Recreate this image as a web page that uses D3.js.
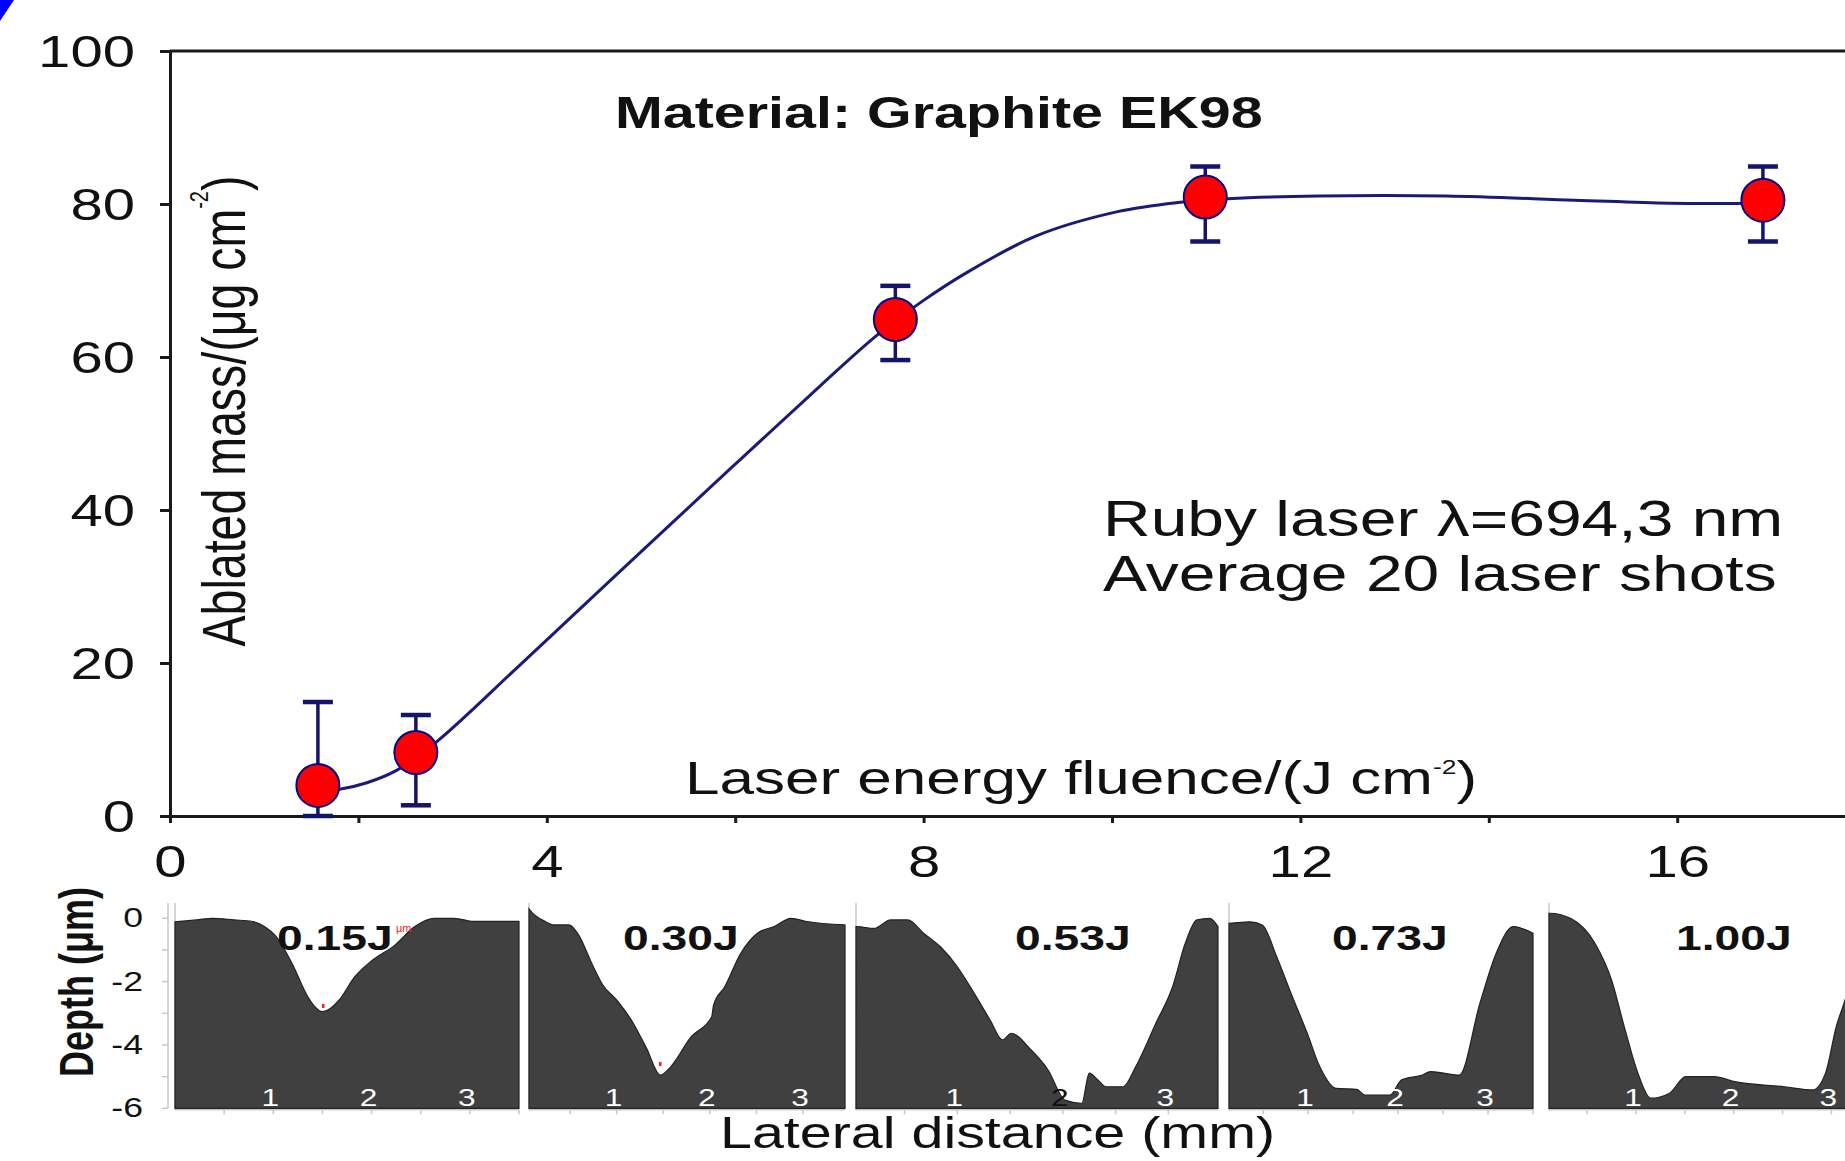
<!DOCTYPE html>
<html>
<head>
<meta charset="utf-8">
<script src="https://cdn.jsdelivr.net/npm/d3@7"></script>
<style>
body { margin: 0; background: #fff; }
svg { display: block; font-family: "Liberation Sans", Arial, sans-serif; }
</style>
</head>
<body>
<div id="chart"></div>
<script>
// Ablated mass vs laser fluence (top chart)
var fluence = [1.57, 2.61, 7.70, 10.99, 16.91];
var mass = [4.0, 8.3, 64.9, 80.9, 80.5];
var errLow = [0, 1.4, 59.6, 75.1, 75.1];
var errHigh = [14.9, 13.2, 69.3, 84.9, 84.9];

// fitted curve
var fitX = [1.57, 1.80, 2.09, 2.41, 2.83, 3.72, 4.78, 5.94, 6.90, 7.50, 8.00, 8.44, 9.19, 10.06, 10.70, 11.23, 12.19, 13.55, 14.91, 15.92, 16.91];
var fitY = [3.3, 3.5, 4.35, 6.0, 9.7, 19.8, 32.0, 45.3, 56.2, 62.8, 67.4, 70.9, 75.8, 79.0, 80.2, 80.7, 81.05, 81.05, 80.5, 80.1, 80.1];

var xTicks = [0, 2, 4, 6, 8, 10, 12, 14, 16];
var yTicks = [0, 20, 40, 60, 80, 100];

// Depth profiles (bottom strip)
var energies = ["0.15J", "0.30J", "0.53J", "0.73J", "1.00J"];
var profileMM = [
    [0, 0.22, 0.38, 0.6, 0.79, 0.91, 1.03, 1.19, 1.35, 1.42, 1.50, 1.58, 1.67, 1.83, 1.99, 2.24, 2.44, 2.64, 2.84, 3.04, 3.3, 3.5],
    [0.06, 0.07, 0.24, 0.32, 0.49, 0.58, 0.75, 0.85, 1.0, 1.18, 1.32, 1.47, 1.58, 1.80, 2.02, 2.04, 2.16, 2.33, 2.51, 2.69, 2.87, 3.04, 3.45],
    [0.04, 0.05, 0.21, 0.37, 0.53, 0.68, 0.84, 1.0, 1.16, 1.31, 1.43, 1.51, 1.70, 1.86, 2.02, 2.18, 2.25, 2.33, 2.41, 2.57, 2.69, 2.88, 3.04, 3.16, 3.27, 3.39, 3.47],
    [0.12, 0.35, 0.49, 0.65, 0.81, 0.99, 1.13, 1.31, 1.54, 1.63, 1.91, 2.04, 2.27, 2.36, 2.68, 2.91, 3.09, 3.28, 3.5],
    [0.11, 0.12, 0.33, 0.58, 0.75, 0.88, 1.02, 1.15, 1.34, 1.51, 1.80, 2.01, 2.52, 2.81, 2.94, 3.05, 3.14, 3.3, 3.6]
];
var profileDepth = [
    [-0.11, -0.05, 0, -0.05, -0.1, -0.26, -0.58, -1.42, -2.47, -2.78, -2.95, -2.85, -2.58, -1.84, -1.37, -0.84, -0.26, 0, 0, -0.1, -0.1, -0.1],
    [0.3, 0.26, -0.11, -0.21, -0.21, -0.47, -1.53, -2.1, -2.58, -3.32, -4.1, -4.95, -4.69, -3.74, -3.11, -2.74, -2.16, -1.11, -0.47, -0.26, 0, -0.1, -0.21],
    [-0.26, -0.26, -0.32, -0.05, -0.05, -0.47, -0.9, -1.53, -2.37, -3.21, -3.84, -3.63, -4.16, -4.79, -5.74, -5.84, -4.89, -5.1, -5.32, -5.32, -4.69, -3.32, -2.16, -0.79, -0.05, 0, -0.26],
    [-0.16, -0.11, -0.21, -1.21, -2.37, -3.63, -4.69, -5.37, -5.4, -5.58, -5.58, -5.1, -4.95, -4.84, -4.95, -2.68, -1.11, -0.26, -0.47],
    [0.16, 0.16, 0, -0.79, -1.95, -3.42, -4.89, -5.68, -5.53, -5.0, -5.0, -5.16, -5.32, -5.42, -4.89, -3.42, -2.58, -0.6, -0.2]
];
var depthTicks = [0, -2, -4, -6];
var lateralTicks = [1, 2, 3];

// layout of the five profile frames (pixel edges and mm at the edges)
var panels = [
    { x0: 175, x1: 519, m0: 0, m1: 3.5, lx: 277 },
    { x0: 529, x1: 845, m0: 0.06, m1: 3.45, lx: 623 },
    { x0: 856, x1: 1218, m0: 0.04, m1: 3.47, lx: 1015 },
    { x0: 1229, x1: 1533, m0: 0.12, m1: 3.5, lx: 1332 },
    { x0: 1549, x1: 1890, m0: 0.11, m1: 3.6, lx: 1676 }
];

var W = 1845, H = 1161;
var SX = 1.32;          // the original figure is stretched sideways
var ink = "#1a1a1a", navy = "#1a1a78";

var svg = d3.select("#chart").append("svg")
    .attr("width", W)
    .attr("height", H);

// blue corner from the slide
svg.append("polygon").attr("points", "0,0 14,0 0,21").attr("fill", "#0000ff");

var x = d3.scaleLinear().domain([0, 18]).range([170, 170 + 18 * 94.2]);
var y = d3.scaleLinear().domain([0, 100]).range([816, 51]);

function label(g, tx, ty, str, size, weight) {
    return g.append("text")
        .attr("transform", `translate(${tx},${ty}) scale(${SX},1)`)
        .style("font-size", size + "px")
        .style("font-weight", weight || "normal")
        .attr("fill", "#111")
        .text(str);
}

// axes
var yAxis = svg.append("g")
    .attr("transform", `translate(${x(0)},0)`)
    .call(d3.axisLeft(y).tickValues(yTicks).tickSize(10).tickSizeOuter(0))
    .attr("font-family", null).attr("font-size", null);
yAxis.select(".domain").attr("stroke", ink).attr("stroke-width", 3);
yAxis.selectAll(".tick line").attr("stroke", ink).attr("stroke-width", 3);
yAxis.selectAll(".tick text")
    .attr("x", -35 / SX).attr("dy", "0.35em")
    .attr("transform", `scale(${SX},1)`)
    .attr("fill", "#111").style("font-size", "44px");

var xAxis = svg.append("g")
    .attr("transform", `translate(0,${y(0)})`)
    .call(d3.axisBottom(x).tickValues(xTicks).tickSize(7).tickSizeOuter(0)
        .tickFormat(d => d % 4 === 0 ? d : ""))
    .attr("font-family", null).attr("font-size", null);
xAxis.select(".domain").attr("stroke", ink).attr("stroke-width", 3);
xAxis.selectAll(".tick line").attr("stroke", ink).attr("stroke-width", 3);
xAxis.selectAll(".tick text")
    .attr("y", 61).attr("dy", "0")
    .attr("transform", `scale(${SX},1)`)
    .attr("fill", "#111").style("font-size", "44px");

// top frame line
svg.append("line")
    .attr("x1", x(0)).attr("x2", W)
    .attr("y1", y(100)).attr("y2", y(100))
    .attr("stroke", ink).attr("stroke-width", 3);

// fitted curve
var fit = fitX.map((d, i) => [d, fitY[i]]);
svg.append("path")
    .datum(fit)
    .attr("fill", "none")
    .attr("stroke", navy)
    .attr("stroke-width", 3)
    .attr("d", d3.line().x(d => x(d[0])).y(d => y(d[1])).curve(d3.curveCatmullRom.alpha(0.5)));

// error bars
var pts = fluence.map((d, i) => ({ f: d, m: mass[i], lo: errLow[i], hi: errHigh[i] }));
var eb = svg.append("g").attr("stroke", "#14146a").attr("stroke-width", 3.5);
eb.selectAll(".stem").data(pts).enter().append("line")
    .attr("x1", d => x(d.f)).attr("x2", d => x(d.f))
    .attr("y1", d => y(d.lo)).attr("y2", d => y(d.hi));
eb.selectAll(".capHi").data(pts).enter().append("line")
    .attr("x1", d => x(d.f) - 15).attr("x2", d => x(d.f) + 15)
    .attr("y1", d => y(d.hi)).attr("y2", d => y(d.hi)).attr("stroke-width", 4.5);
eb.selectAll(".capLo").data(pts).enter().append("line")
    .attr("x1", d => x(d.f) - 15).attr("x2", d => x(d.f) + 15)
    .attr("y1", d => y(d.lo)).attr("y2", d => y(d.lo)).attr("stroke-width", 4.5);

// markers
svg.append("g").selectAll("circle").data(pts).enter().append("circle")
    .attr("cx", d => x(d.f)).attr("cy", d => y(d.m))
    .attr("r", 21.5)
    .attr("fill", "#ff0000")
    .attr("stroke", "#00008b")
    .attr("stroke-width", 2);

// texts in the top chart
label(svg, 615, 128, "Material: Graphite EK98", 43.5, "bold");
label(svg, 1103, 536, "Ruby laser λ=694,3 nm", 50);
label(svg, 1103, 591, "Average 20 laser shots", 50);

var xl = label(svg, 685, 794, "Laser energy fluence/(J cm", 47);
xl.append("tspan").attr("dy", -20).style("font-size", "20px").text("-2");
xl.append("tspan").attr("dy", 20).text(")");

var yl = svg.append("text")
    .attr("transform", `translate(245,411) scale(${SX},1) rotate(-90)`)
    .attr("text-anchor", "middle")
    .style("font-size", "46.5px")
    .attr("fill", "#111");
yl.append("tspan").text("Ablated mass/(μg cm");
yl.append("tspan").attr("dy", -28).style("font-size", "20px").text("-2");
yl.append("tspan").attr("dy", 28).text(")");

// ---- depth profiles ----
var yD = d3.scaleLinear().domain([0, -6]).range([918.3, 1108.3]);
var bottom = svg.append("g");

// shared depth axis
bottom.append("line")
    .attr("x1", 168).attr("x2", 168).attr("y1", 903).attr("y2", yD(-6))
    .attr("stroke", "#c8c8c8").attr("stroke-width", 1.5);
bottom.selectAll(".dtick").data(d3.range(0, -7, -1)).enter().append("line")
    .attr("x1", 162).attr("x2", 168)
    .attr("y1", d => yD(d)).attr("y2", d => yD(d))
    .attr("stroke", "#c8c8c8").attr("stroke-width", 1.5);
depthTicks.forEach(function(d) {
    label(bottom, 143, yD(d) + 9, d, 27).attr("text-anchor", "end");
});

function depthAt(ms, ds, m) {
    var i = d3.bisectLeft(ms, m);
    if (i <= 0) return ds[0];
    if (i >= ms.length) return ds[ds.length - 1];
    var t = (m - ms[i - 1]) / (ms[i] - ms[i - 1]);
    return ds[i - 1] + t * (ds[i] - ds[i - 1]);
}

panels.forEach(function(p, k) {
    var xm = d3.scaleLinear().domain([p.m0, p.m1]).range([p.x0, p.x1]);
    var g = bottom.append("g");
    var prof = profileMM[k].map((m, i) => [m, profileDepth[k][i]]);

    // frame lines
    g.append("line")
        .attr("x1", p.x0).attr("x2", p.x0).attr("y1", 903).attr("y2", yD(-6) + 2)
        .attr("stroke", "#c8c8c8").attr("stroke-width", 1.5);
    g.append("line")
        .attr("x1", p.x0).attr("x2", p.x1).attr("y1", yD(-6) + 1.5).attr("y2", yD(-6) + 1.5)
        .attr("stroke", "#c8c8c8").attr("stroke-width", 1.5);
    g.selectAll(".mt").data(d3.range(0.5, p.m1 + 0.01, 0.5).filter(m => m >= p.m0)).enter().append("line")
        .attr("x1", d => xm(d)).attr("x2", d => xm(d))
        .attr("y1", yD(-6) + 1).attr("y2", yD(-6) + 6)
        .attr("stroke", "#c8c8c8").attr("stroke-width", 1.5);

    g.append("path")
        .datum(prof)
        .attr("fill", "#404040")
        .attr("stroke", "#222")
        .attr("stroke-width", 1.2)
        .attr("d", d3.area().x(d => xm(d[0])).y0(yD(-6)).y1(d => yD(d[1])).curve(d3.curveMonotoneX));

    lateralTicks.forEach(function(m) {
        var dark = depthAt(profileMM[k], profileDepth[k], m) > -5.4;
        label(g, xm(m) - 3, 1106, m, 24)
            .attr("text-anchor", "middle")
            .attr("fill", dark ? "#fff" : "#111");
    });

    label(g, p.lx, 949.5, energies[k], 35, "bold");
});

// small cursor marks from the profilometer screenshots
bottom.append("text").attr("x", 396).attr("y", 932).style("font-size", "11px")
    .attr("fill", "#ff2020").text("µm");
bottom.append("rect").attr("x", 322).attr("y", 1004).attr("width", 2.5).attr("height", 4).attr("fill", "#ff2020");
bottom.append("rect").attr("x", 659).attr("y", 1062).attr("width", 2.5).attr("height", 4).attr("fill", "#ff2020");

// bottom labels
bottom.append("text")
    .attr("transform", `translate(93,982) scale(${SX},1) rotate(-90)`)
    .attr("text-anchor", "middle")
    .style("font-size", "36px").style("font-weight", "bold")
    .attr("fill", "#111")
    .text("Depth (μm)");
label(bottom, 720, 1148, "Lateral distance (mm)", 43.5);
</script>
</body>
</html>
